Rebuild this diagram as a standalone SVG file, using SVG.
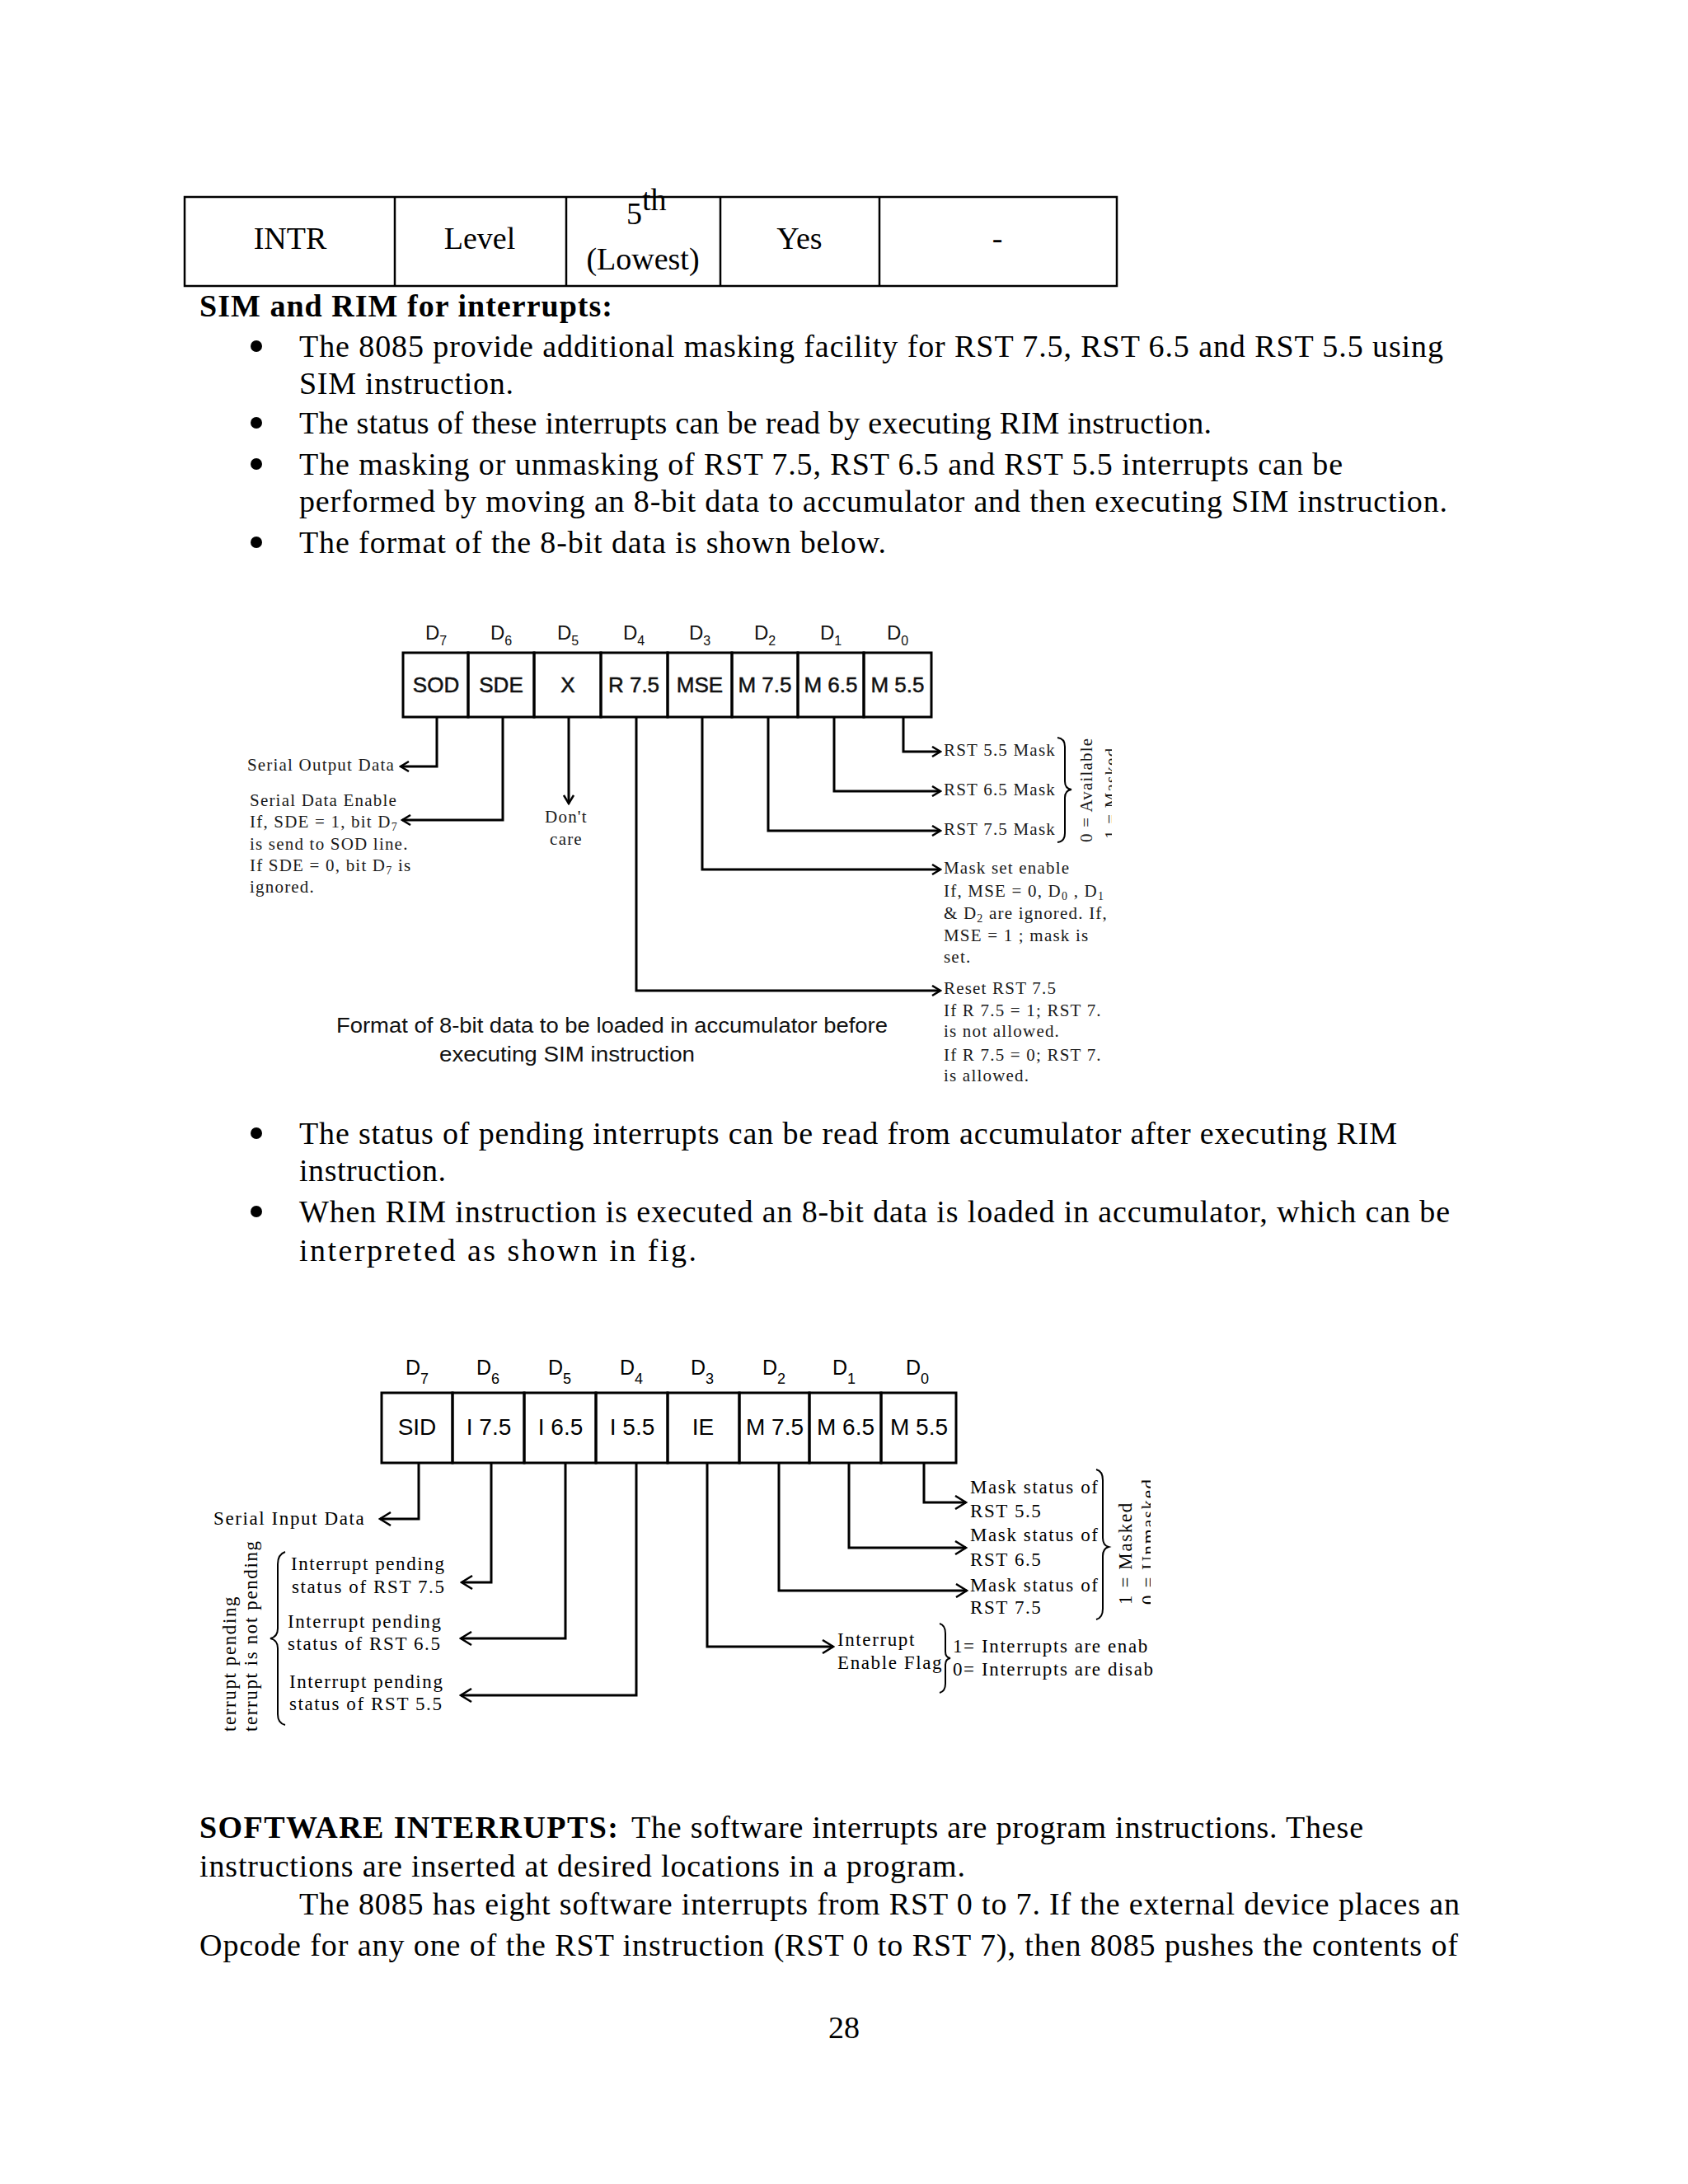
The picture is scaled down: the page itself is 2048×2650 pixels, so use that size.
<svg xmlns="http://www.w3.org/2000/svg" width="2048" height="2650" viewBox="0 0 2048 2650">
<style>
.body{font-family:"Liberation Serif","Times New Roman",serif;font-size:38px;fill:#000}
.b{font-weight:bold}
.bul{fill:#000}
.reg{font-family:"Liberation Sans",Arial,sans-serif;font-size:26px;fill:#111;text-anchor:middle;stroke:#111;stroke-width:0.5}
.reg2{font-family:"Liberation Sans",Arial,sans-serif;font-size:28px;fill:#000;text-anchor:middle}
.dl{font-family:"Liberation Sans",Arial,sans-serif;font-size:24px;fill:#111;text-anchor:middle}
.dl2{font-family:"Liberation Sans",Arial,sans-serif;font-size:25px;fill:#000;text-anchor:middle}
.ann{font-family:"Liberation Serif","Times New Roman",serif;font-size:21px;letter-spacing:1.2px;fill:#1a1a1a}
.ann2{font-family:"Liberation Serif","Times New Roman",serif;font-size:23px;letter-spacing:1.6px;fill:#000}
.cap{font-family:"Liberation Sans",Arial,sans-serif;font-size:25px;fill:#111}
.cell{fill:none;stroke:#000;stroke-width:3}
.tbl{fill:none;stroke:#000;stroke-width:2.5}
.conn{fill:none;stroke:#000;stroke-width:3}
.brace{fill:none;stroke:#000;stroke-width:2}
</style>
<defs>
<marker id="ah" viewBox="0 0 14 14" refX="12" refY="7" markerWidth="14" markerHeight="14" markerUnits="userSpaceOnUse" orient="auto"><path d="M2,1 L12,7 L2,13" fill="none" stroke="#000" stroke-width="2.5"/></marker>
<marker id="ah2" viewBox="0 0 18 18" refX="16" refY="9" markerWidth="18" markerHeight="18" markerUnits="userSpaceOnUse" orient="auto"><path d="M3,1 L16,9 L3,17" fill="none" stroke="#000" stroke-width="2.5"/></marker>
<clipPath id="clipSim"><rect x="0" y="0" width="1349" height="2650"/></clipPath>
<clipPath id="clipRim"><rect x="0" y="0" width="1396" height="2650"/></clipPath>
</defs>
<rect width="2048" height="2650" fill="#fff"/>

<g id="table">
<rect class="tbl" x="224" y="239" width="1131" height="108"/>
<line class="tbl" x1="479" y1="239" x2="479" y2="347"/>
<line class="tbl" x1="687" y1="239" x2="687" y2="347"/>
<line class="tbl" x1="874" y1="239" x2="874" y2="347"/>
<line class="tbl" x1="1067" y1="239" x2="1067" y2="347"/>
<text class="body" x="352" y="302" text-anchor="middle">INTR</text>
<text class="body" x="582" y="302" text-anchor="middle">Level</text>
<text class="body" x="760" y="272">5</text>
<text class="body" x="779" y="255" font-size="22">th</text>
<text class="body" x="780" y="327" text-anchor="middle">(Lowest)</text>
<text class="body" x="970" y="302" text-anchor="middle">Yes</text>
<text class="body" x="1210" y="302" text-anchor="middle">-</text>
</g>

<g id="intro-text">
<text class="body b" x="242" y="384" textLength="501" lengthAdjust="spacing">SIM and RIM for interrupts:</text>
<circle class="bul" cx="311" cy="420" r="7"/>
<text class="body" x="363" y="433" textLength="1388" lengthAdjust="spacing">The 8085 provide additional masking facility for RST 7.5, RST 6.5 and RST 5.5 using</text>
<text class="body" x="363" y="478" textLength="260" lengthAdjust="spacing">SIM instruction.</text>
<circle class="bul" cx="311" cy="513" r="7"/>
<text class="body" x="363" y="526" textLength="1107" lengthAdjust="spacing">The status of these interrupts can be read by executing RIM instruction.</text>
<circle class="bul" cx="311" cy="563" r="7"/>
<text class="body" x="363" y="576" textLength="1266" lengthAdjust="spacing">The masking or unmasking of RST 7.5, RST 6.5 and RST 5.5 interrupts can be</text>
<text class="body" x="363" y="621" textLength="1393" lengthAdjust="spacing">performed by moving an 8-bit data to accumulator and then executing SIM instruction.</text>
<circle class="bul" cx="311" cy="658" r="7"/>
<text class="body" x="363" y="671" textLength="712" lengthAdjust="spacing">The format of the 8-bit data is shown below.</text>
</g>

<!-- SIM format diagram -->
<g id="sim-bits">
<text class="dl" x="529" y="776">D<tspan font-size="16" dy="7">7</tspan></text>
<text class="dl" x="608" y="776">D<tspan font-size="16" dy="7">6</tspan></text>
<text class="dl" x="689" y="776">D<tspan font-size="16" dy="7">5</tspan></text>
<text class="dl" x="769" y="776">D<tspan font-size="16" dy="7">4</tspan></text>
<text class="dl" x="849" y="776">D<tspan font-size="16" dy="7">3</tspan></text>
<text class="dl" x="928" y="776">D<tspan font-size="16" dy="7">2</tspan></text>
<text class="dl" x="1008" y="776">D<tspan font-size="16" dy="7">1</tspan></text>
<text class="dl" x="1089" y="776">D<tspan font-size="16" dy="7">0</tspan></text>
</g>
<g id="sim-sod"><rect class="cell" x="489" y="792" width="79" height="78"/><text class="reg" x="529" y="840">SOD</text></g>
<g id="sim-sde"><rect class="cell" x="568" y="792" width="80" height="78"/><text class="reg" x="608" y="840">SDE</text></g>
<g id="sim-x"><rect class="cell" x="648" y="792" width="81" height="78"/><text class="reg" x="689" y="840">X</text></g>
<g id="sim-r75"><rect class="cell" x="729" y="792" width="81" height="78"/><text class="reg" x="769" y="840">R 7.5</text></g>
<g id="sim-mse"><rect class="cell" x="810" y="792" width="78" height="78"/><text class="reg" x="849" y="840">MSE</text></g>
<g id="sim-m75"><rect class="cell" x="888" y="792" width="80" height="78"/><text class="reg" x="928" y="840">M 7.5</text></g>
<g id="sim-m65"><rect class="cell" x="968" y="792" width="80" height="78"/><text class="reg" x="1008" y="840">M 6.5</text></g>
<g id="sim-m55"><rect class="cell" x="1048" y="792" width="82" height="78"/><text class="reg" x="1089" y="840">M 5.5</text></g>

<g id="sim-connectors">
<path class="conn" d="M530,870 V930 H486" marker-end="url(#ah)"/>
<path class="conn" d="M610,870 V995 H488" marker-end="url(#ah)"/>
<path class="conn" d="M690,870 V975" marker-end="url(#ah)"/>
<path class="conn" d="M772,870 V1202 H1141" marker-end="url(#ah)"/>
<path class="conn" d="M852,870 V1055 H1141" marker-end="url(#ah)"/>
<path class="conn" d="M932,870 V1008 H1141" marker-end="url(#ah)"/>
<path class="conn" d="M1012,870 V960 H1141" marker-end="url(#ah)"/>
<path class="conn" d="M1096,870 V912 H1141" marker-end="url(#ah)"/>
</g>

<g id="sim-serial-output"><text class="ann" x="479" y="935" text-anchor="end">Serial Output Data</text></g>
<g id="sim-serial-enable">
<text class="ann" x="303" y="978">Serial Data Enable</text>
<text class="ann" x="303" y="1004">If, SDE = 1, bit D<tspan font-size="14" dy="4">7</tspan></text>
<text class="ann" x="303" y="1031">is send to SOD line.</text>
<text class="ann" x="303" y="1057">If SDE = 0, bit D<tspan font-size="14" dy="4">7</tspan><tspan dy="-4"> is</tspan></text>
<text class="ann" x="303" y="1083">ignored.</text>
</g>
<g id="sim-dontcare">
<text class="ann" x="687" y="998" text-anchor="middle">Don't</text>
<text class="ann" x="687" y="1025" text-anchor="middle">care</text>
</g>
<g id="sim-masks">
<text class="ann" x="1145" y="917">RST 5.5 Mask</text>
<text class="ann" x="1145" y="965">RST 6.5 Mask</text>
<text class="ann" x="1145" y="1013">RST 7.5 Mask</text>
<path class="brace" d="M1283,895 Q1292,896 1292,906 L1292,948 Q1292,957 1300,958 Q1292,959 1292,968 L1292,1011 Q1292,1021 1283,1022"/>
<g clip-path="url(#clipSim)">
<text class="ann" transform="translate(1325,1022) rotate(-90)">0 = Available</text>
<text class="ann" transform="translate(1355,1018) rotate(-90)">1 = Masked</text>
</g>
</g>
<g id="sim-mse-note">
<text class="ann" x="1145" y="1060">Mask set enable</text>
<text class="ann" x="1145" y="1088">If, MSE = 0, D<tspan font-size="14" dy="4">0</tspan><tspan dy="-4"> , D</tspan><tspan font-size="14" dy="4">1</tspan></text>
<text class="ann" x="1145" y="1115">&amp; D<tspan font-size="14" dy="4">2</tspan><tspan dy="-4"> are ignored. If,</tspan></text>
<text class="ann" x="1145" y="1142">MSE = 1 ; mask is</text>
<text class="ann" x="1145" y="1168">set.</text>
</g>
<g id="sim-reset-note">
<text class="ann" x="1145" y="1206">Reset RST 7.5</text>
<text class="ann" x="1145" y="1233">If  R 7.5 = 1; RST 7.</text>
<text class="ann" x="1145" y="1258">is not allowed.</text>
<text class="ann" x="1145" y="1287">If  R 7.5 = 0; RST 7.</text>
<text class="ann" x="1145" y="1312">is allowed.</text>
</g>
<g id="sim-caption">
<text class="cap" x="408" y="1253" textLength="669" lengthAdjust="spacingAndGlyphs">Format of 8-bit data to be loaded in accumulator before</text>
<text class="cap" x="533" y="1288" textLength="310" lengthAdjust="spacingAndGlyphs">executing SIM instruction</text>
</g>

<g id="rim-text">
<circle class="bul" cx="311" cy="1375" r="7"/>
<text class="body" x="363" y="1388" textLength="1332" lengthAdjust="spacing">The status of pending interrupts can be read from accumulator after executing RIM</text>
<text class="body" x="363" y="1433" textLength="178" lengthAdjust="spacing">instruction.</text>
<circle class="bul" cx="311" cy="1470" r="7"/>
<text class="body" x="363" y="1483" textLength="1396" lengthAdjust="spacing">When RIM instruction is executed an 8-bit data is loaded in accumulator, which can be</text>
<text class="body" x="363" y="1530" textLength="482" lengthAdjust="spacing">interpreted as shown in fig.</text>
</g>

<!-- RIM format diagram -->
<g id="rim-bits">
<text class="dl2" x="506" y="1668">D<tspan font-size="18" dy="11">7</tspan></text>
<text class="dl2" x="592" y="1668">D<tspan font-size="18" dy="11">6</tspan></text>
<text class="dl2" x="679" y="1668">D<tspan font-size="18" dy="11">5</tspan></text>
<text class="dl2" x="766" y="1668">D<tspan font-size="18" dy="11">4</tspan></text>
<text class="dl2" x="852" y="1668">D<tspan font-size="18" dy="11">3</tspan></text>
<text class="dl2" x="939" y="1668">D<tspan font-size="18" dy="11">2</tspan></text>
<text class="dl2" x="1024" y="1668">D<tspan font-size="18" dy="11">1</tspan></text>
<text class="dl2" x="1113" y="1668">D<tspan font-size="18" dy="11">0</tspan></text>
</g>
<g id="rim-sid"><rect class="cell" x="463" y="1690" width="86" height="85"/><text class="reg2" x="506" y="1741">SID</text></g>
<g id="rim-i75"><rect class="cell" x="549" y="1690" width="87" height="85"/><text class="reg2" x="593" y="1741">I 7.5</text></g>
<g id="rim-i65"><rect class="cell" x="636" y="1690" width="87" height="85"/><text class="reg2" x="680" y="1741">I 6.5</text></g>
<g id="rim-i55"><rect class="cell" x="723" y="1690" width="87" height="85"/><text class="reg2" x="767" y="1741">I 5.5</text></g>
<g id="rim-ie"><rect class="cell" x="810" y="1690" width="87" height="85"/><text class="reg2" x="853" y="1741">IE</text></g>
<g id="rim-m75"><rect class="cell" x="897" y="1690" width="85" height="85"/><text class="reg2" x="940" y="1741">M 7.5</text></g>
<g id="rim-m65"><rect class="cell" x="982" y="1690" width="87" height="85"/><text class="reg2" x="1026" y="1741">M 6.5</text></g>
<g id="rim-m55"><rect class="cell" x="1069" y="1690" width="91" height="85"/><text class="reg2" x="1115" y="1741">M 5.5</text></g>

<g id="rim-connectors">
<path class="conn" d="M508,1775 V1843 H461" marker-end="url(#ah2)"/>
<path class="conn" d="M596,1775 V1920 H560" marker-end="url(#ah2)"/>
<path class="conn" d="M686,1775 V1988 H559" marker-end="url(#ah2)"/>
<path class="conn" d="M772,1775 V2057 H559" marker-end="url(#ah2)"/>
<path class="conn" d="M858,1775 V1998 H1011" marker-end="url(#ah2)"/>
<path class="conn" d="M945,1775 V1930 H1173" marker-end="url(#ah2)"/>
<path class="conn" d="M1030,1775 V1878 H1172" marker-end="url(#ah2)"/>
<path class="conn" d="M1121,1775 V1823 H1172" marker-end="url(#ah2)"/>
</g>

<g id="rim-serial-input"><text class="ann2" x="259" y="1850">Serial Input Data</text></g>
<g id="rim-pending">
<text class="ann2" x="353" y="1905">Interrupt pending</text>
<text class="ann2" x="354" y="1933">status of RST 7.5</text>
<text class="ann2" x="349" y="1975">Interrupt pending</text>
<text class="ann2" x="349" y="2002">status of RST 6.5</text>
<text class="ann2" x="351" y="2048">Interrupt pending</text>
<text class="ann2" x="351" y="2075">status of RST 5.5</text>
<path class="brace" d="M346,1883 Q337,1886 337,1898 L337,1976 Q337,1986 328,1988 Q337,1990 337,2000 L337,2080 Q337,2091 346,2093"/>
<text class="ann2" transform="translate(286,2101) rotate(-90)">terrupt pending</text>
<text class="ann2" transform="translate(312,2101) rotate(-90)">terrupt is not pending</text>
</g>
<g id="rim-masks">
<text class="ann2" x="1177" y="1812">Mask status of</text>
<text class="ann2" x="1177" y="1841">RST 5.5</text>
<text class="ann2" x="1177" y="1870">Mask status of</text>
<text class="ann2" x="1177" y="1900">RST 6.5</text>
<text class="ann2" x="1177" y="1931">Mask status of</text>
<text class="ann2" x="1177" y="1958">RST 7.5</text>
<path class="brace" d="M1330,1783 Q1338,1785 1338,1796 L1338,1866 Q1338,1875 1345,1877 Q1338,1879 1338,1888 L1338,1952 Q1338,1963 1330,1965"/>
<g clip-path="url(#clipRim)">
<text class="ann2" transform="translate(1373,1947) rotate(-90)">1 = Masked</text>
<text class="ann2" transform="translate(1401,1947) rotate(-90)">0 = Unmasked</text>
</g>
</g>
<g id="rim-ie-flag">
<text class="ann2" x="1016" y="1997">Interrupt</text>
<text class="ann2" x="1016" y="2025">Enable Flag</text>
<path class="brace" d="M1140,1970 Q1147,1972 1147,1982 L1147,2004 Q1147,2011 1153,2012 Q1147,2013 1147,2020 L1147,2043 Q1147,2052 1140,2054"/>
<text class="ann2" x="1156" y="2005">1= Interrupts are enab</text>
<text class="ann2" x="1156" y="2033">0= Interrupts are disab</text>
</g>

<g id="software-interrupts">
<text class="body b" x="242" y="2230" textLength="508" lengthAdjust="spacing">SOFTWARE INTERRUPTS:</text>
<text class="body" x="766" y="2230" textLength="888" lengthAdjust="spacing">The software interrupts are program instructions. These</text>
<text class="body" x="242" y="2277" textLength="929" lengthAdjust="spacing">instructions are inserted at desired locations in a program.</text>
<text class="body" x="363" y="2323" textLength="1408" lengthAdjust="spacing">The 8085 has eight software interrupts from RST 0 to 7. If the external device places an</text>
<text class="body" x="242" y="2373" textLength="1527" lengthAdjust="spacing">Opcode for any one of the RST instruction (RST 0 to RST 7), then 8085 pushes the contents of</text>
<text class="body" x="1024" y="2473" text-anchor="middle">28</text>
</g>
</svg>
